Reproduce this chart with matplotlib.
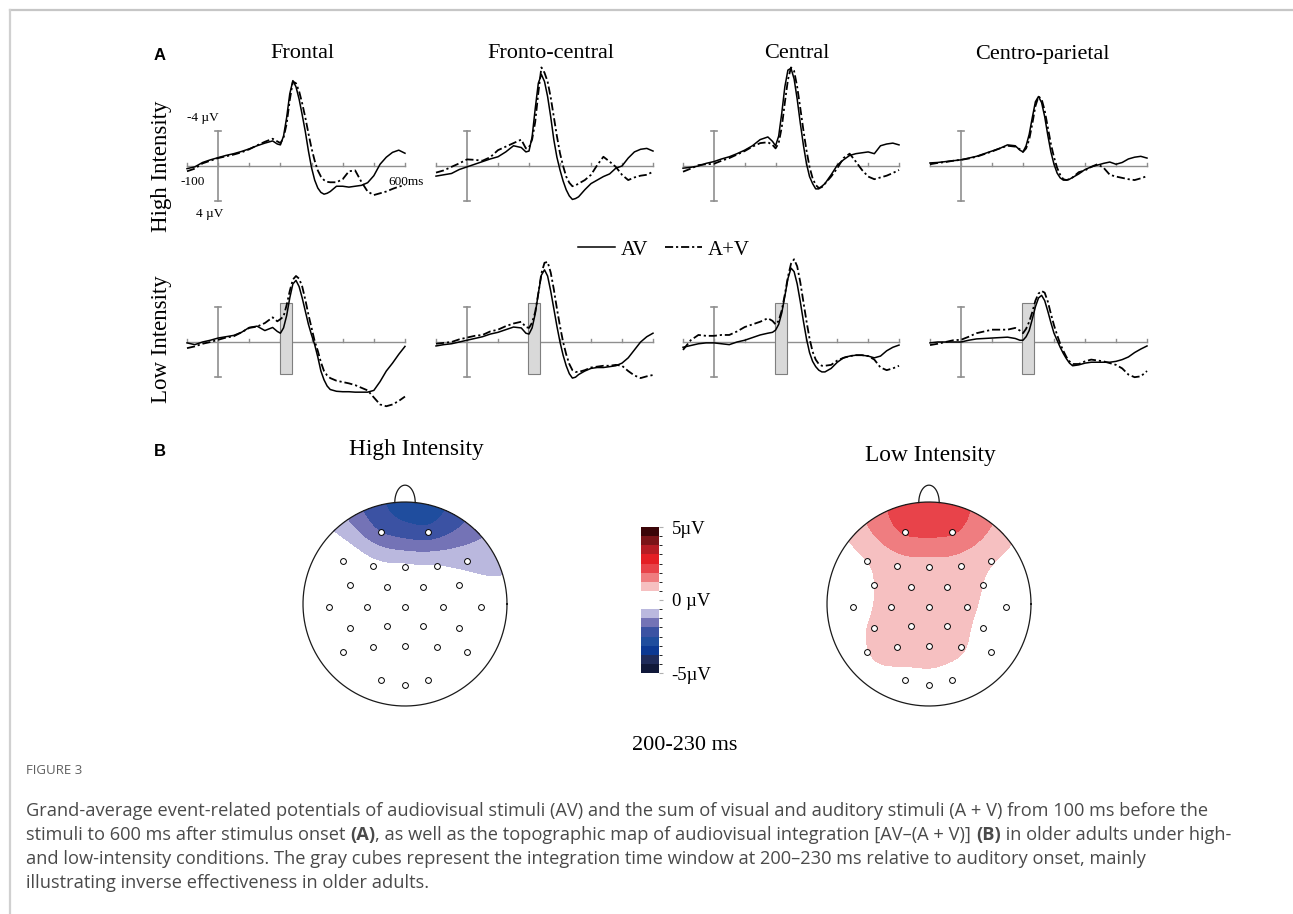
import numpy as np
import matplotlib
matplotlib.use("Agg")
import matplotlib.pyplot as plt
from matplotlib.colors import ListedColormap, BoundaryNorm
from matplotlib.lines import Line2D
from matplotlib.patches import Rectangle
from matplotlib.cm import ScalarMappable

# ---------------- data ----------------
times_ms = [-100, -75, -50, -25, 0, 25, 50, 75, 100, 125, 150, 175, 190, 200, 210, 220, 230,
            240, 250, 260, 270, 280, 290, 300, 310, 320, 330, 340, 350, 360, 380, 400, 420,
            440, 460, 480, 500, 520, 540, 560, 580, 600]

regions = ["Frontal", "Fronto-central", "Central", "Centro-parietal"]
conditions = ["High Intensity", "Low Intensity"]

# µV, negative plotted upward
high_frontal_av = [0.3, 0.1, -0.4, -0.7, -0.95, -1.2, -1.4, -1.65, -1.95, -2.3, -2.6, -2.85, -2.5, -2.4, -3.4, -5.5, -8.2,
                   -9.7, -9.0, -7.6, -5.8, -3.9, -1.7, 0.2, 1.6, 2.5, 3.0, 3.2, 3.1, 2.9, 2.3, 2.3, 2.4,
                   2.3, 2.2, 1.9, 1.1, -0.2, -1.0, -1.55, -1.8, -1.45]
high_frontal_apv = [0.6, 0.3, -0.3, -0.6, -0.9, -1.1, -1.3, -1.55, -1.9, -2.35, -2.75, -3.1, -2.8, -2.6, -3.2, -4.8, -7.5,
                    -9.6, -9.4, -8.5, -7.1, -5.5, -3.7, -2.0, -0.6, 0.5, 1.2, 1.6, 1.8, 1.85, 1.85, 1.5, 0.6,
                    0.5, 1.8, 2.9, 3.3, 3.1, 2.9, 2.6, 2.35, 2.15]
high_fc_av = [1.15, 1.0, 0.85, 0.4, 0.1, -0.2, -0.5, -0.8, -1.05, -1.6, -2.3, -2.1, -1.6, -1.7, -3.3, -6.5, -9.4,
              -10.4, -9.6, -7.9, -5.6, -3.0, -1.0, 0.45, 1.7, 2.7, 3.4, 3.8, 3.7, 3.5, 2.7, 2.0, 1.6,
              1.2, 0.9, 0.25, 0.0, -0.9, -1.6, -1.9, -2.0, -1.7]
high_fc_apv = [0.75, 0.5, 0.1, -0.3, -0.75, -0.7, -0.6, -1.0, -1.8, -2.2, -2.6, -3.0, -2.0, -2.1, -3.0, -5.0, -8.3,
               -11.2, -10.6, -9.6, -7.8, -5.6, -3.4, -1.45, 0.0, 1.2, 1.9, 2.3, 2.2, 2.0, 1.6, 1.0, -0.1,
               -1.05, -0.5, 0.1, 1.0, 1.6, 1.3, 1.1, 1.0, 0.65]
high_c_av = [0.25, 0.15, 0.0, -0.3, -0.5, -0.8, -1.05, -1.4, -1.8, -2.3, -3.0, -3.3, -2.8, -2.3, -3.4, -6.0, -9.0,
             -10.9, -11.1, -9.9, -7.6, -4.9, -2.4, -0.3, 1.2, 2.0, 2.6, 2.6, 2.3, 2.0, 1.0, -0.1, -0.7,
             -1.2, -1.4, -1.5, -1.6, -1.4, -2.3, -2.5, -2.6, -2.4]
high_c_apv = [0.65, 0.3, -0.1, -0.2, -0.25, -0.6, -0.9, -1.3, -1.7, -2.2, -2.6, -2.7, -2.4, -2.0, -2.6, -4.4, -7.2,
              -9.8, -11.2, -10.8, -9.0, -6.6, -4.1, -1.8, 0.1, 1.4, 2.15, 2.5, 2.4, 2.0, 1.2, 0.25, -0.9,
              -1.4, -0.5, 0.45, 1.2, 1.5, 1.3, 1.1, 0.8, 0.45]
high_cp_av = [-0.35, -0.4, -0.5, -0.6, -0.7, -0.9, -1.1, -1.4, -1.7, -2.0, -2.4, -2.3, -1.8, -1.6, -2.3, -3.6, -5.5,
              -7.3, -7.9, -7.2, -5.6, -3.5, -1.6, -0.2, 0.8, 1.35, 1.6, 1.6, 1.5, 1.3, 0.9, 0.4, 0.1,
              -0.1, -0.3, -0.45, -0.2, -0.4, -0.8, -1.0, -1.1, -0.9]
high_cp_apv = [-0.2, -0.35, -0.45, -0.6, -0.7, -0.85, -1.05, -1.35, -1.65, -2.0, -2.3, -2.2, -1.9, -1.6, -2.0, -3.0, -4.8,
               -6.8, -7.9, -7.6, -6.3, -4.4, -2.5, -1.0, 0.2, 1.0, 1.5, 1.6, 1.5, 1.3, 0.7, 0.5, 0.1,
               -0.2, 0.2, 1.0, 1.2, 1.35, 1.5, 1.6, 1.4, 1.15]

low_frontal_av = [0.1, 0.3, 0.0, -0.2, -0.45, -0.6, -0.75, -1.1, -1.65, -1.8, -1.3, -1.65, -1.2, -1.0, -1.6, -3.0, -5.0,
                  -6.6, -7.0, -6.3, -5.0, -3.5, -2.0, -0.8, 0.3, 1.7, 3.3, 4.3, 5.0, 5.4, 5.6, 5.65, 5.65,
                  5.7, 5.7, 5.7, 5.5, 4.5, 3.3, 2.4, 1.4, 0.5]
low_frontal_apv = [0.7, 0.5, 0.2, 0.0, -0.25, -0.5, -0.65, -1.1, -1.6, -1.75, -2.15, -2.8, -2.35, -2.6, -2.9, -4.2, -5.8,
                   -7.1, -7.5, -7.2, -6.3, -4.8, -3.1, -1.6, -0.1, 1.0, 2.3, 3.3, 3.8, 4.1, 4.4, 4.55, 4.7,
                   4.9, 5.2, 5.5, 6.3, 7.1, 7.3, 7.1, 6.7, 6.2]
low_fc_av = [0.45, 0.3, 0.2, 0.0, -0.2, -0.4, -0.6, -0.9, -1.1, -1.4, -1.7, -1.6, -1.0, -0.9, -1.6, -3.2, -5.5,
             -7.6, -8.2, -7.5, -5.8, -3.8, -1.8, 0.0, 1.5, 2.7, 3.6, 4.1, 4.0, 3.7, 3.3, 3.0, 2.9,
             2.9, 2.8, 2.7, 2.4, 1.8, 0.9, 0.0, -0.6, -1.0]
low_fc_apv = [0.2, 0.1, 0.0, -0.3, -0.5, -0.7, -0.8, -1.2, -1.4, -1.8, -2.1, -2.3, -1.7, -1.6, -2.2, -3.4, -5.5,
              -7.8, -9.0, -9.1, -7.9, -6.0, -3.8, -1.8, 0.0, 1.4, 2.5, 3.2, 3.4, 3.4, 3.2, 2.9, 2.8,
              2.7, 2.7, 2.6, 2.7, 3.3, 3.8, 4.1, 3.9, 3.75]
low_c_av = [0.6, 0.4, 0.2, 0.1, 0.1, 0.2, 0.3, 0.0, -0.2, -0.5, -0.8, -1.0, -1.1, -1.35, -2.0, -3.3, -5.2,
            -7.2, -8.4, -8.0, -6.6, -4.6, -2.4, -0.4, 1.2, 2.2, 2.8, 3.2, 3.4, 3.4, 3.0, 2.3, 1.8,
            1.6, 1.5, 1.5, 1.6, 1.8, 1.6, 1.0, 0.6, 0.35]
low_c_apv = [0.9, -0.2, -0.8, -0.7, -0.7, -0.8, -0.8, -1.2, -1.7, -2.0, -2.3, -2.7, -2.4, -2.0, -2.4, -3.6, -5.4,
             -7.4, -8.9, -9.4, -8.6, -6.8, -4.6, -2.4, -0.4, 1.1, 2.0, 2.5, 2.7, 2.7, 2.6, 2.1, 1.8,
             1.6, 1.5, 1.5, 1.6, 2.0, 2.9, 3.2, 3.0, 2.7]
low_cp_av = [0.1, 0.0, 0.0, 0.0, 0.0, -0.2, -0.35, -0.4, -0.45, -0.5, -0.55, -0.4, -0.2, -0.2, -0.6, -1.3, -2.6,
             -4.0, -5.0, -5.3, -4.7, -3.5, -2.2, -1.0, -0.2, 0.6, 1.3, 1.9, 2.4, 2.7, 2.6, 2.4, 2.3,
             2.3, 2.3, 2.3, 2.2, 2.0, 1.7, 1.2, 0.8, 0.45]
low_cp_apv = [0.35, 0.2, 0.0, -0.2, -0.25, -0.6, -1.0, -1.2, -1.4, -1.4, -1.4, -1.6, -1.3, -1.0, -1.5, -2.3, -3.4,
              -4.7, -5.5, -5.8, -5.6, -4.6, -3.2, -1.9, -0.8, 0.2, 1.0, 1.7, 2.2, 2.5, 2.5, 2.2, 2.0,
              2.1, 2.2, 2.4, 2.6, 3.0, 3.7, 4.0, 3.9, 3.3]

av_series = [[high_frontal_av, high_fc_av, high_c_av, high_cp_av],
             [low_frontal_av, low_fc_av, low_c_av, low_cp_av]]
apv_series = [[high_frontal_apv, high_fc_apv, high_c_apv, high_cp_apv],
              [low_frontal_apv, low_fc_apv, low_c_apv, low_cp_apv]]

window_ms = [198, 236]          # integration window (gray box)
window_uv = [-4.4, 3.6]

# electrode positions (head radius = 1) and amplitudes of AV-(A+V) at 200-230 ms
elec_x = [-0.24, 0.23,
          -0.61, -0.31, 0.0, 0.31, 0.61,
          -0.54, -0.18, 0.18, 0.53,
          -0.75, -0.37, 0.0, 0.37, 0.75,
          -0.54, -0.18, 0.18, 0.53,
          -0.61, -0.31, 0.0, 0.31, 0.61,
          -0.24, 0.0, 0.23]
elec_y = [0.71, 0.71,
          0.42, 0.37, 0.36, 0.37, 0.42,
          0.19, 0.17, 0.17, 0.19,
          -0.03, -0.03, -0.03, -0.03, -0.03,
          -0.24, -0.22, -0.22, -0.24,
          -0.47, -0.42, -0.41, -0.42, -0.47,
          -0.75, -0.79, -0.75]
topo_high = [-1.9, -2.3,
             0.0, -0.4, -0.5, -0.6, -0.8,
             0.1, -0.1, -0.2, -0.45,
             0.05, 0.0, -0.05, -0.15, -0.4,
             0.05, 0.0, 0.0, -0.1,
             0.05, 0.05, 0.0, 0.0, 0.0,
             0.05, 0.05, 0.0]
topo_low = [1.95, 1.95,
            0.62, 0.95, 1.0, 0.95, 0.68,
            0.62, 1.0, 1.0, 0.62,
            0.2, 0.9, 1.0, 0.8, 0.2,
            0.75, 1.0, 0.95, 0.4,
            0.6, 0.9, 0.9, 0.7, 0.3,
            0.45, 0.5, 0.45]

cbar_colors = ['#10183a', '#1f2b5b', '#0c3893', '#1f4d9e', '#3b52a3', '#7473b6', '#bab8de', '#ffffff',
               '#ffffff', '#f6c0c1', '#ef7d80', '#e8434a', '#e41e25', '#b51c24', '#7b1418', '#3b0508']
cbar_ticks = [-5, 0, 5]
cbar_ticklabels = ["-5µV", "0 µV", "5µV"]

caption_runs = [
    [("Grand-average event-related potentials of audiovisual stimuli (AV) and the sum of visual and auditory stimuli (A + V) from 100 ms before the", False)],
    [("stimuli to 600 ms after stimulus onset ", False), ("(A)", True),
     (", as well as the topographic map of audiovisual integration [AV\u2013(A + V)] ", False), ("(B)", True),
     (" in older adults under high-", False)],
    [("and low-intensity conditions. The gray cubes represent the integration time window at 200\u2013230 ms relative to auditory onset, mainly", False)],
    [("illustrating inverse effectiveness in older adults.", False)],
]

# ---------------- figure ----------------
W, H = 1293, 914
fig = plt.figure(figsize=(W / 100, H / 100), dpi=100)
SERIF = "Liberation Serif"


def rect(l, t, w, h):
    return [l / W, 1 - (t + h) / H, w / W, h / H]


def fxy(x, y):
    return x / W, 1 - y / H


# card border
fig.add_artist(Line2D([10 / W, 1.0], [1 - 10 / H, 1 - 10 / H], color='#c6c6c6', lw=1.6))
fig.add_artist(Line2D([10 / W, 10 / W], [0.0, 1 - 10 / H], color='#d0d0d0', lw=1.6))

gc = '#8f8f8f'
col_x0 = [187, 436, 683, 930]
col_sx = [0.3114, 0.31, 0.3086, 0.31]
row_zero = [166, 342]
sy = 8.8
t_arr = np.array(times_ms)
av_style = dict(color='black', lw=1.1, ls='-')
apv_style = dict(color='black', lw=1.3, ls=(0, (4.5, 1.6, 1.2, 1.6)))

for r in range(2):
    for c in range(4):
        xmin, xmax, ytop, ybot = -115, 615, -13.0, 9.0
        x0, sx, z = col_x0[c], col_sx[c], row_zero[r]
        ax = fig.add_axes(rect(x0 + (xmin + 100) * sx, z + ytop * sy, (xmax - xmin) * sx, (ybot - ytop) * sy))
        ax.set_xlim(xmin, xmax)
        ax.set_ylim(ybot, ytop)
        ax.axis('off')
        ax.plot([-100, 600], [0, 0], color=gc, lw=1.0, zorder=1)
        for tt in range(-100, 601, 100):
            ax.plot([tt, tt], [0, -0.38], color=gc, lw=1.0, zorder=1)
        ax.plot([0, 0], [-4, 4], color=gc, lw=1.2, zorder=1)
        for yy in (-4, 4):
            ax.plot([-9, 9], [yy, yy], color=gc, lw=1.2, zorder=1)
        if r == 1:
            ax.add_patch(Rectangle((window_ms[0], window_uv[0]), window_ms[1] - window_ms[0],
                                   window_uv[1] - window_uv[0], facecolor='#d9d9d9',
                                   edgecolor='#7f7f7f', lw=0.8, zorder=2))
        ax.plot(t_arr, av_series[r][c], zorder=4, **av_style)
        ax.plot(t_arr, apv_series[r][c], zorder=3, **apv_style)
        if r == 0 and c == 0:
            ax.text(-48, -5.45, "-4 µV", family=SERIF, fontsize=9.5, ha='center', va='center')
            ax.text(-26, 5.5, "4 µV", family=SERIF, fontsize=9.5, ha='center', va='center')
            ax.text(-82, 1.8, "-100", family=SERIF, fontsize=9.5, ha='center', va='center')
            ax.text(546, 1.8, "600ms", family=SERIF, fontsize=9.5, ha='left', va='center')

# column titles and row labels
title_x = [302, 551, 797, 1042]
for c in range(4):
    fig.text(*fxy(title_x[c], 54), regions[c], family=SERIF, fontsize=16, ha='center', va='center')
fig.text(*fxy(162, 166), conditions[0], family=SERIF, fontsize=16.5, ha='center', va='center', rotation=90)
fig.text(*fxy(162, 339), conditions[1], family=SERIF, fontsize=16.5, ha='center', va='center', rotation=90)

# legend
handles = [Line2D([], [], **av_style), Line2D([], [], **apv_style)]
fig.legend(handles, ["AV", "A+V"], loc='center', bbox_to_anchor=fxy(664, 250), ncol=2, frameon=False,
           prop={'family': SERIF, 'size': 15}, handlelength=1.75, handletextpad=0.3, columnspacing=0.8)

# panel letters
fig.text(*fxy(160, 55), "A", family="Liberation Sans", fontweight='bold', fontsize=12, ha='center', va='center')
fig.text(*fxy(160, 451), "B", family="Liberation Sans", fontweight='bold', fontsize=12, ha='center', va='center')

# ---------------- topographic maps ----------------
ex = np.array(elec_x)
ey = np.array(elec_y)


def green(d):
    ds = np.where(d > 0, d, 1.0)
    return np.where(d > 0, ds ** 2 * (np.log(ds) - 1.0), 0.0)


gx, gy = np.meshgrid(np.linspace(-1, 1, 301), np.linspace(-1, 1, 301))


def field(vals):
    d = np.hypot(ex[:, None] - ex[None, :], ey[:, None] - ey[None, :])
    w = np.linalg.solve(green(d), np.array(vals))
    dg = np.hypot(gx.ravel()[:, None] - ex[None, :], gy.ravel()[:, None] - ey[None, :])
    z = (green(dg) @ w).reshape(gx.shape)
    z = np.clip(z, -4.99, 4.99)
    return np.ma.masked_where(np.hypot(gx, gy) > 1.0, z)


levels = np.linspace(-5, 5, 17)
cmap = ListedColormap(cbar_colors)
norm = BoundaryNorm(levels, cmap.N)

heads = [(405, 604, topo_high, "High Intensity", (416, 450)),
         (929, 604, topo_low, "Low Intensity", (930, 455))]
R = 102
th = np.linspace(0, 2 * np.pi, 400)
for cx, cy, vals, label, lpos in heads:
    ext = 1.3
    ax = fig.add_axes(rect(cx - ext * R, cy - ext * R, 2 * ext * R, 2 * ext * R))
    ax.set_xlim(-ext, ext)
    ax.set_ylim(-ext, ext)
    ax.axis('off')
    ax.contourf(gx, gy, field(vals), levels=levels, cmap=cmap, norm=norm, zorder=1)
    ax.plot(np.cos(th), np.sin(th), color='#1a1a1a', lw=0.9, zorder=3)
    tn = np.linspace(0, np.pi, 60)
    ax.plot(0.1 * np.cos(tn), 0.995 + 0.17 * np.sin(tn), color='#1a1a1a', lw=0.9, zorder=3)
    ax.plot(ex, ey, 'o', mfc='white', mec='black', ms=4.2, mew=0.7, zorder=4)
    fig.text(*fxy(*lpos), label, family=SERIF, fontsize=16.8, ha='center', va='center')

cax = fig.add_axes(rect(641, 527, 18, 146))
cb = fig.colorbar(ScalarMappable(norm=norm, cmap=cmap), cax=cax, ticks=cbar_ticks)
cb.outline.set_visible(False)
cb.ax.set_yticklabels(cbar_ticklabels, family=SERIF, fontsize=13.5)
cb.ax.tick_params(length=3, color='#b0b0b0', width=0.8, pad=6)

fig.text(*fxy(685, 745), "200-230 ms", family=SERIF, fontsize=16, ha='center', va='center')

# ---------------- caption ----------------
CAP = "Open Sans"
fig.text(*fxy(26, 771), "FIGURE 3", family=CAP, fontsize=9.5, color='#5f5f5f', ha='left', va='center')
renderer = fig.canvas.get_renderer()


def run_width(s, bold, size):
    t1 = fig.text(0, 0, s + "|", family=CAP, fontsize=size, fontweight='bold' if bold else 'normal')
    t2 = fig.text(0, 0, "|", family=CAP, fontsize=size, fontweight='bold' if bold else 'normal')
    w = t1.get_window_extent(renderer).width - t2.get_window_extent(renderer).width
    t1.remove()
    t2.remove()
    return w


base = 10.5
w1 = run_width(caption_runs[0][0][0], False, base)
cap_size = base * 1192.0 / w1
line_y = [811, 835, 859, 883]
for runs, yy in zip(caption_runs, line_y):
    x = 26.0
    for s, bold in runs:
        fig.text(*fxy(x, yy), s, family=CAP, fontsize=cap_size, fontweight='bold' if bold else 'normal',
                 color='#4a4a4a', ha='left', va='center')
        x += run_width(s, bold, cap_size)

fig.savefig("out.png", dpi=100)
